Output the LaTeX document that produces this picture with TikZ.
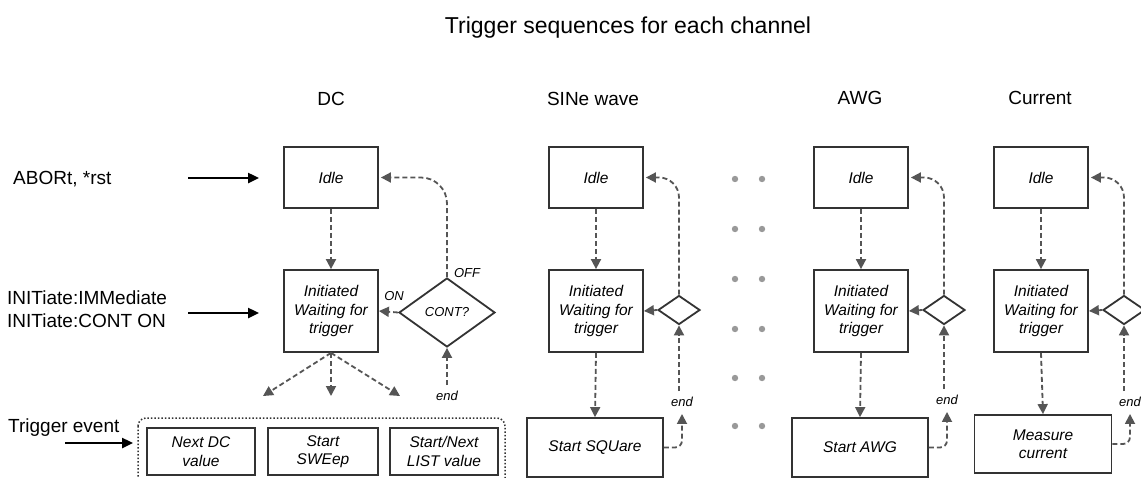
\documentclass[tikz,border=0pt]{standalone}
\usepackage{fontspec}
\setmainfont{Liberation Sans}
\usetikzlibrary{arrows.meta,shapes.geometric}
\definecolor{boxc}{HTML}{333333}
\definecolor{arrc}{HTML}{555555}
\definecolor{dotc}{HTML}{999999}
\begin{document}
\begin{tikzpicture}[x=1pt,y=-1pt,
  box/.style={draw=boxc, line width=1.8pt, fill=white, align=center, inner sep=0pt,
    font=\itshape\fontsize{15.5}{18.5}\selectfont},
  dia/.style={diamond, draw=boxc, line width=1.8pt, fill=white, inner sep=0pt,
    font=\itshape\fontsize{13}{15}\selectfont},
  darr/.style={draw=arrc, line width=1.8pt, dash pattern=on 5pt off 3pt,
    -{Triangle[length=10pt,width=10pt]}},
  sarr/.style={draw=black, line width=2.4pt, -{Triangle[length=11pt,width=10pt]}},
  big/.style={font=\fontsize{19}{23}\selectfont, inner sep=0pt, align=left},
  lbl/.style={font=\itshape\fontsize{13}{15}\selectfont, inner sep=0pt},
  frame/.style={draw=boxc, line width=1.5pt, dotted, rounded corners=8pt},
]
\clip (0,0) rectangle (1141,477);
\fill[white] (0,0) rectangle (1141,477);

% title and headers
\node[big, anchor=base] (title) at (628,33) {\fontsize{23}{27}\selectfont Trigger sequences for each channel};
\node[big, anchor=base] (hDC) at (331,105) {DC};
\node[big, anchor=base] (hSIN) at (593,105) {SINe wave};
\node[big, anchor=base] (hAWG) at (860,104) {AWG};
\node[big, anchor=base] (hCUR) at (1040,104) {Current};

% left labels
\node[big, anchor=base west] (lab1) at (13,184) {ABORt, *rst};
\node[big, anchor=west] (lab2) at (7,309) {INITiate:IMMediate\\INITiate:CONT ON};
\node[big, anchor=base west] (lab3) at (8,432) {Trigger event};
\coordinate (a1s) at (188,178); \coordinate (a1e) at (259,178);
\coordinate (a2s) at (188,313); \coordinate (a2e) at (259,313);
\coordinate (a3s) at (65,443);  \coordinate (a3e) at (133,443);
\draw[sarr] (a1s) -- (a1e);
\draw[sarr] (a2s) -- (a2e);
\draw[sarr] (a3s) -- (a3e);

% ---------------- DC ----------------
\draw[frame] (138,418) rectangle (505,505);
\node[box, minimum width=94pt, minimum height=61pt] (idleA) at (331,177.5) {Idle};
\node[box, minimum width=94pt, minimum height=82pt] (initA) at (331,311) {Initiated\\Waiting for\\trigger};
\node[dia, minimum width=96pt, minimum height=69pt] (diaA) at (447,312.5) {CONT?};
\node[box, minimum width=108pt, minimum height=47pt] (b1) at (201,451.5) {Next DC\\value};
\node[box, minimum width=110pt, minimum height=47pt] (b2) at (323,451.5) {Start\\SWEep};
\node[box, minimum width=108pt, minimum height=47pt] (b3) at (444,451.5) {Start/Next\\LIST value};
\node[lbl] (onA) at (394,296) {ON};
\node[lbl] (offA) at (467,273) {OFF};
\node[lbl] (endA) at (447,396) {end};
\coordinate (tA1) at (263,396);
\coordinate (tA2) at (331,396);
\coordinate (tA3) at (400,396);
\draw[darr] (idleA.south) -- (initA.north);
\draw[darr] (initA.south) -- (tA1);
\draw[darr] (initA.south) -- (tA2);
\draw[darr] (initA.south) -- (tA3);
\draw[darr] (diaA.west) -- (initA.east);
\draw[darr, rounded corners=26pt, shorten >=2pt] (diaA.north) |- (idleA.east);
\draw[darr, shorten <=6pt] (endA.north) -- (diaA.south);

% ---------------- SINe ----------------
\node[box, minimum width=94pt, minimum height=61pt] (idleB) at (596,177.5) {Idle};
\node[box, minimum width=94pt, minimum height=82pt] (initB) at (596,311) {Initiated\\Waiting for\\trigger};
\node[dia, minimum width=42pt, minimum height=29pt] (diaB) at (679,310) {};
\node[box, minimum width=136pt, minimum height=59pt] (boxB) at (595,447.5) {Start SQUare};
\node[lbl] (endB) at (682,402) {end};
\draw[darr] (idleB.south) -- (initB.north);
\draw[darr] (initB.south) -- (boxB.north);
\draw[darr] (diaB.west) -- (initB.east);
\draw[darr, rounded corners=20pt, shorten >=2pt] (diaB.north) |- (idleB.east);
\draw[darr, shorten <=6pt] (endB.north -| diaB.south) -- (diaB.south);
\draw[darr, rounded corners=7pt, shorten >=7pt] (boxB.east) -| (endB.south);

% ---------------- AWG ----------------
\node[box, minimum width=94pt, minimum height=61pt] (idleC) at (861,177.5) {Idle};
\node[box, minimum width=94pt, minimum height=82pt] (initC) at (861,311) {Initiated\\Waiting for\\trigger};
\node[dia, minimum width=42pt, minimum height=29pt] (diaC) at (944,310) {};
\node[box, minimum width=136pt, minimum height=59pt] (boxC) at (860,447.5) {Start AWG};
\node[lbl] (endC) at (947,400) {end};
\draw[darr] (idleC.south) -- (initC.north);
\draw[darr] (initC.south) -- (boxC.north);
\draw[darr] (diaC.west) -- (initC.east);
\draw[darr, rounded corners=20pt, shorten >=2pt] (diaC.north) |- (idleC.east);
\draw[darr, shorten <=6pt] (endC.north -| diaC.south) -- (diaC.south);
\draw[darr, rounded corners=7pt, shorten >=7pt] (boxC.east) -| (endC.south);

% ---------------- Current ----------------
\node[box, minimum width=94pt, minimum height=61pt] (idleD) at (1041,177.5) {Idle};
\node[box, minimum width=94pt, minimum height=82pt] (initD) at (1041,311) {Initiated\\Waiting for\\trigger};
\node[dia, minimum width=42pt, minimum height=29pt] (diaD) at (1124,310) {};
\node[box, minimum width=137pt, minimum height=58pt] (boxD) at (1043,444) {Measure\\current};
\node[lbl] (endD) at (1130,402) {end};
\draw[darr] (idleD.south) -- (initD.north);
\draw[darr] (initD.south) -- (boxD.north);
\draw[darr] (diaD.west) -- (initD.east);
\draw[darr, rounded corners=20pt, shorten >=2pt] (diaD.north) |- (idleD.east);
\draw[darr, shorten <=6pt] (endD.north -| diaD.south) -- (diaD.south);
\draw[darr, rounded corners=7pt, shorten >=7pt] (boxD.east) -| (endD.south);

% ---------------- dots ----------------
\foreach \yy in {179,229,279,329,378,426} {
  \fill[dotc] (735,\yy) circle (3.2pt);
  \fill[dotc] (762,\yy) circle (3.2pt);
}
\end{tikzpicture}
\end{document}
